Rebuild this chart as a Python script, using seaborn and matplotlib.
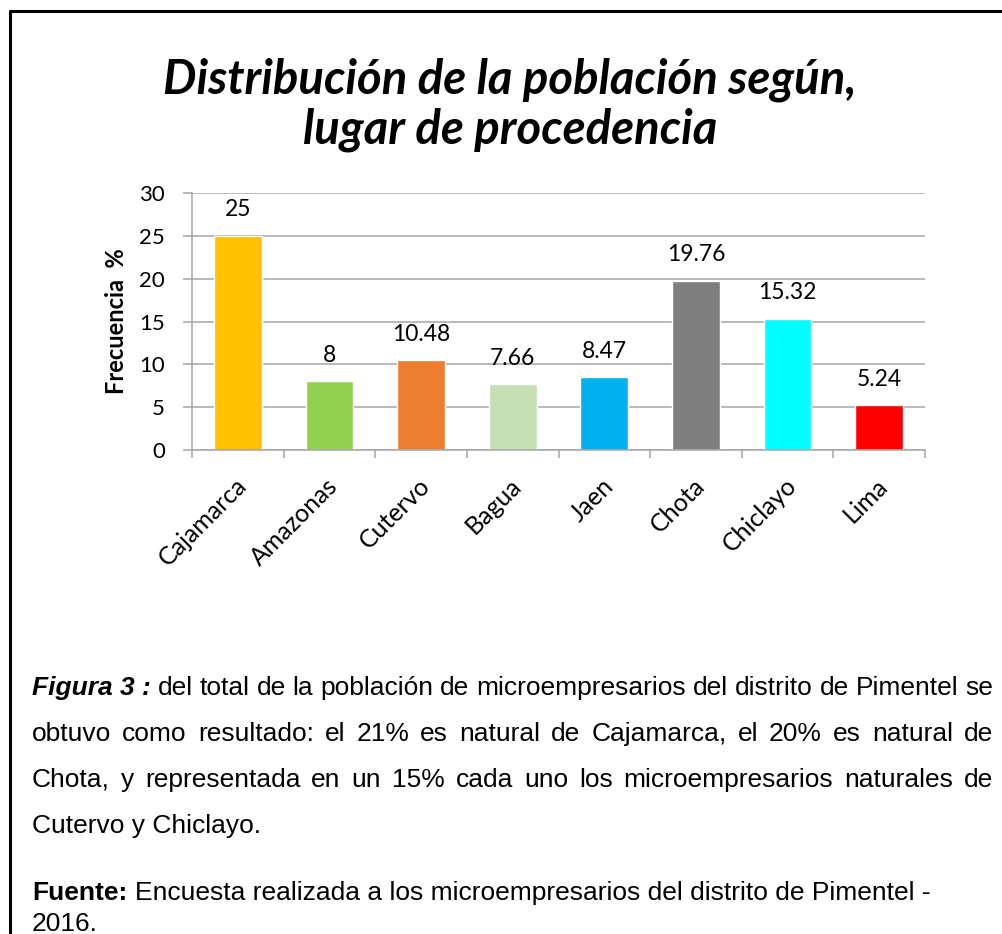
import numpy as np
import matplotlib
matplotlib.use("Agg")
import matplotlib.pyplot as plt
import matplotlib.transforms as mtransforms
from matplotlib.lines import Line2D
import seaborn as sns

# Datos del gráfico
categorias = ["Cajamarca", "Amazonas", "Cutervo", "Bagua", "Jaen", "Chota", "Chiclayo", "Lima"]
valores = [25, 8, 10.48, 7.66, 8.47, 19.76, 15.32, 5.24]
colores = ["#FFC000", "#92D050", "#ED7D31", "#C5E0B4", "#00B0F0", "#7F7F7F", "#00FFFF", "#FF0000"]
ticks_y = [0, 5, 10, 15, 20, 25, 30]

titulo = ["Distribución de la población según,", "lugar de procedencia"]
eje_y = "Frecuencia  %"

nota_inicio = "Figura 3 :"
nota_lineas = [
    "del total de la población de microempresarios del distrito de Pimentel se",
    "obtuvo como resultado: el 21% es natural de Cajamarca, el 20% es natural de",
    "Chota, y representada en un 15% cada uno los microempresarios naturales de",
    "Cutervo y Chiclayo.",
]
fuente_inicio = "Fuente:"
fuente_lineas = ["Encuesta realizada a los microempresarios del distrito de Pimentel -", "2016."]

W, H = 1003, 934
GRIS = "#A6A6A6"

sns.set_style("white")
plt.rcParams["font.family"] = ["Lato", "DejaVu Sans"]
plt.rcParams["text.color"] = "black"
plt.rcParams["axes.labelcolor"] = "black"

fig = plt.figure(figsize=(W / 100, H / 100), dpi=100)


def fx(x):
    return x / W


def fy(y):
    return 1 - y / H


# marco del recuadro
fig.add_artist(Line2D([fx(10), fx(10)], [fy(11), 0], transform=fig.transFigure, color="black", lw=2.2))
fig.add_artist(Line2D([fx(10), 1], [fy(11), fy(11)], transform=fig.transFigure, color="black", lw=2.2))

# título
fig.text(fx(510), fy(94), titulo[0], ha="center", va="baseline", fontsize=34,
         fontweight="bold", fontstyle="italic")
fig.text(fx(510), fy(143), titulo[1], ha="center", va="baseline", fontsize=34,
         fontweight="bold", fontstyle="italic")

# gráfico de barras
ax = fig.add_axes([fx(192), fy(450), (925 - 192) / W, (450 - 193) / H])
sns.barplot(x=categorias, y=valores, hue=categorias, palette=colores, saturation=1,
            width=0.52, legend=False, ax=ax)
ax.set_axisbelow(True)
ax.set_xlim(-0.5, len(categorias) - 0.5)
ax.set_ylim(0, 30)
ax.set_yticks(ticks_y)
ax.yaxis.grid(True, color=GRIS, lw=1.1)
ax.xaxis.grid(False)
for s in ["top", "right"]:
    ax.spines[s].set_visible(False)
for s in ["left", "bottom"]:
    ax.spines[s].set_color(GRIS)
    ax.spines[s].set_linewidth(1.1)

ax.tick_params(axis="y", left=True, length=6.5, width=1.1, color=GRIS, pad=13,
               labelsize=16, labelcolor="black")
ax.set_xticks(range(len(categorias)))
ax.set_xticklabels(categorias, rotation=45, ha="right", va="center", rotation_mode="anchor")
ax.tick_params(axis="x", which="major", bottom=False, length=0, pad=23, labelsize=18,
               labelcolor="black")
ax.set_xticks(np.arange(len(categorias) + 1) - 0.5, minor=True)
ax.tick_params(axis="x", which="minor", bottom=True, length=5.8, width=1.1, color=GRIS)
desplaza = mtransforms.ScaledTranslation(5 / 100, 0, fig.dpi_scale_trans)
for lab in ax.get_xticklabels():
    lab.set_transform(lab.get_transform() + desplaza)

ax.set_xlabel("")
ax.set_ylabel(eje_y, fontsize=17, fontweight="bold", va="center", ha="center")
ax.yaxis.set_label_coords((117 - 192) / (925 - 192), 0.5)

for i, v in enumerate(valores):
    ax.annotate(f"{v:g}", (i, v), xytext=(0, 18.7), textcoords="offset points",
                ha="center", va="center", fontsize=16.5)

# texto inferior justificado
renderer = fig.canvas.get_renderer()
FS = 19
FAM = "Liberation Sans"


def texto(x, y, s, peso="normal", estilo="normal"):
    return fig.text(fx(x), fy(y), s, fontsize=FS, family=FAM, fontweight=peso,
                    fontstyle=estilo, ha="left", va="baseline")


def ancho(t):
    return t.get_window_extent(renderer=renderer).width


def justificada(palabras, x0, x1, y):
    objs = [texto(x0, y, p, peso, estilo) for p, peso, estilo in palabras]
    anchos = [ancho(o) for o in objs]
    hueco = (x1 - x0 - sum(anchos)) / (len(objs) - 1)
    x = x0
    for o, a in zip(objs, anchos):
        o.set_x(fx(x))
        x += a + hueco


X0, X1 = 32, 993
m1, m2 = texto(0, 0, "a a"), texto(0, 0, "aa")
esp = ancho(m1) - ancho(m2)
m1.remove()
m2.remove()
base = [695, 741, 787, 833]

primera = [(nota_inicio, "bold", "italic")] + \
          [(p, "normal", "normal") for p in nota_lineas[0].split()]
justificada(primera, X0, X1, base[0])
for ln, y in zip(nota_lineas[1:3], base[1:3]):
    justificada([(p, "normal", "normal") for p in ln.split()], X0, X1, y)
texto(X0, base[3], nota_lineas[3])

f = texto(X0, 900, fuente_inicio, peso="bold")
texto(X0 + ancho(f) + esp, 900, fuente_lineas[0])
texto(X0, 931, fuente_lineas[1])

fig.savefig("out.png", dpi=100)
